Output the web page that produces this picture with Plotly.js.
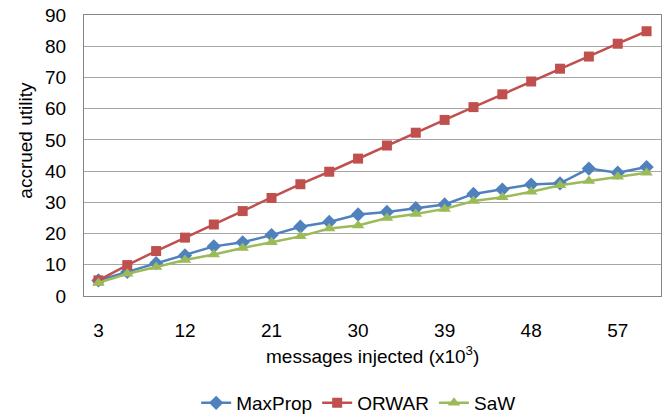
<!DOCTYPE html>
<html><head><meta charset="utf-8">
<script src="https://cdn.plot.ly/plotly-3.0.1.min.js"></script>
<style>html,body{margin:0;padding:0;background:#fff}#c{width:671px;height:414px}</style>
</head><body><div id="c"></div>
<script>
const messages = [3,6,9,12,15,18,21,24,27,30,33,36,39,42,45,48,51,54,57,60];
const maxProp = [5.0,7.7,10.5,13.0,15.9,17.2,19.5,22.2,23.7,26.1,26.9,28.1,29.3,32.7,34.1,35.7,36.1,40.8,39.5,41.3];
const orwar = [5.0,9.9,14.4,18.7,22.9,27.2,31.4,35.8,39.8,44.0,48.2,52.3,56.4,60.5,64.6,68.7,72.8,76.7,80.8,84.8];
const saw = [4.2,7.1,9.3,11.5,13.3,15.4,17.2,19.1,21.6,22.6,25.0,26.3,27.9,30.4,31.6,33.4,35.5,36.8,38.2,39.5];
const xTicks = [3,12,21,30,39,48,57];

const font = {family: 'Liberation Sans, Arial, sans-serif', size: 19, color: '#000'};
function tr(name, y, color, symbol, size) {
  return {x: messages, y: y, name: name, type: 'scatter', mode: 'lines+markers',
    line: {color: color, width: 2.5}, marker: {color: color, symbol: symbol, size: size}};
}
const data = [
  tr('MaxProp', maxProp, '#4F81BD', 'diamond', 11),
  tr('ORWAR', orwar, '#C0504D', 'square', 10),
  tr('SaW', saw, '#9BBB59', 'triangle-up', 11)
];
const layout = {
  width: 671, height: 414,
  margin: {l: 83.5, r: 9.5, t: 14.5, b: 117.5, autoexpand: false},
  paper_bgcolor: '#fff', plot_bgcolor: '#fff',
  font: font,
  showlegend: true,
  legend: {orientation: 'h', xref: 'paper', x: 0.476, xanchor: 'center', yref: 'container', y: 11/414, yanchor: 'middle',
    font: font, traceorder: 'normal', itemwidth: 30, tracegroupgap: 0},
  xaxis: {
    range: [1.5, 61.5], tickvals: xTicks, ticktext: xTicks.map(String), automargin: false,
    showgrid: false, zeroline: false, showline: true, mirror: true, linecolor: '#868686', linewidth: 1,
    ticks: '', ticklabelstandoff: 17
  },
  yaxis: {
    range: [0, 90], dtick: 10, showgrid: true, gridcolor: '#a6a6a6', gridwidth: 1, automargin: false,
    zeroline: false, showline: true, mirror: true, linecolor: '#868686', linewidth: 1,
    ticks: '', ticklabelstandoff: 13
  },
  annotations: [
    {text: 'messages injected (x10<sup>3</sup>)', xref: 'paper', yref: 'paper', x: 0.5, y: -59/282,
      xanchor: 'center', yanchor: 'middle', showarrow: false, font: font},
    {text: 'accrued utility', xref: 'paper', yref: 'paper', x: -59/578, y: 1 - 126/282, textangle: -90,
      xanchor: 'center', yanchor: 'middle', showarrow: false, font: font}
  ]
};
Plotly.newPlot('c', data, layout, {staticPlot: true, displayModeBar: false});
</script></body></html>
